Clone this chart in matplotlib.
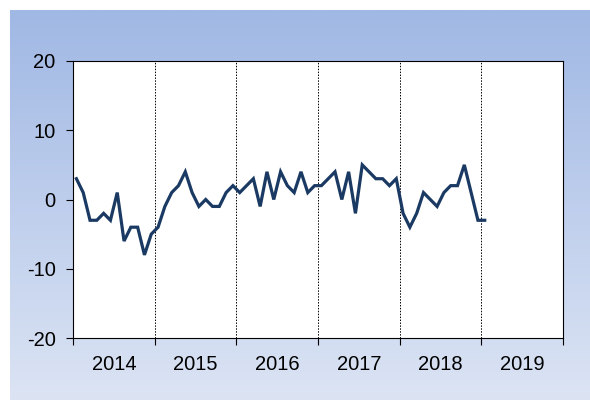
import numpy as np
import matplotlib
matplotlib.use("Agg")
import matplotlib.pyplot as plt
from matplotlib.colors import LinearSegmentedColormap

plt.rcParams['font.family'] = ['Liberation Sans', 'DejaVu Sans']
plt.rcParams['axes.unicode_minus'] = False

# monthly values, Jan 2014 .. Jan 2019
valores = [3, 1, -3, -3, -2, -3, 1, -6, -4, -4, -8, -5,
           -4, -1, 1, 2, 4, 1, -1, 0, -1, -1, 1, 2,
           1, 2, 3, -1, 4, 0, 4, 2, 1, 4, 1, 2,
           2, 3, 4, 0, 4, -2, 5, 4, 3, 3, 2, 3,
           -2, -4, -2, 1, 0, -1, 1, 2, 2, 5, 1, -3,
           -3]
anios = ['2014', '2015', '2016', '2017', '2018', '2019']
y_ticks = [-20, -10, 0, 10, 20]

fig = plt.figure(figsize=(5.9, 4), dpi=100)

# fondo degradado
bg = fig.add_axes([10 / 590, 0, 580 / 590, 390 / 400])
cmap = LinearSegmentedColormap.from_list('fondo', ['#dce4f4', '#a0b8e4'])
bg.imshow(np.linspace(0, 1, 256).reshape(-1, 1), aspect='auto', cmap=cmap,
          origin='lower', extent=[0, 1, 0, 1])
bg.axis('off')

ax = fig.add_axes([73 / 590, 62 / 400, 490 / 590, 277 / 400])
ax.set_facecolor('white')
x = np.arange(len(valores)) + 0.5
ax.plot(x, valores, color='#1b3a63', lw=2.3, solid_joinstyle='miter')

ax.set_xlim(0, 72)
ax.set_ylim(-20, 20)
ax.set_yticks(y_ticks)
ax.set_xticks(np.arange(0, 73, 12))
ax.set_xticklabels([])
ax.set_xticks(np.arange(6, 72, 12), minor=True)
ax.set_xticklabels(anios, minor=True)
ax.tick_params(axis='x', which='minor', length=0, labelsize=14.5, pad=12)
ax.tick_params(axis='x', which='major', length=5, direction='out')
ax.tick_params(axis='y', labelsize=14.5, length=5, direction='out', pad=7.5)
ax.grid(axis='x', which='major', color='black', linestyle=(0, (1.5, 1.5)), lw=0.7)

for s in ax.spines.values():
    s.set_color('black')
    s.set_linewidth(0.8)

fig.savefig('out.png', dpi=100)
